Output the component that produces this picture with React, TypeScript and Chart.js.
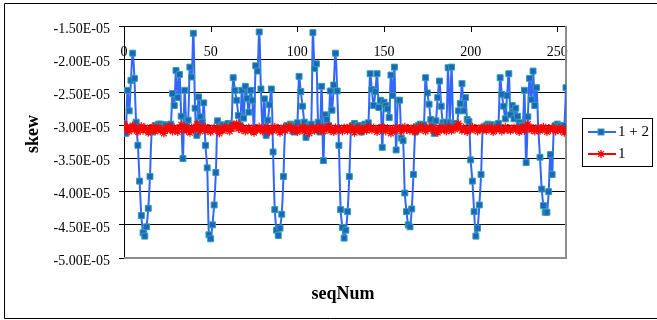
import React, { useEffect, useRef } from 'react';
import { Chart, registerables } from 'chart.js';

Chart.register(...registerables);

// seqNum 0..255 (x index of each sample)
const SEQ_NUM: number[] = Array.from({ length: 256 }, (_, i) => i);

// Series "1 + 2" — skew values in units of 1E-05
const SERIES_1_2: number[] = [
  -2.97, -3.12, -2.47, -2.78, -2.32, -1.91, -2.29, -2.95, -3.30, -3.84, -4.36, -4.62, -4.67, -4.53, -4.25, -3.77,
  -3.10, -3.08, -3.00, -3.02, -2.98, -2.98, -3.01, -3.03, -2.99, -3.05, -3.00, -2.98, -2.52, -2.70, -2.17, -2.58,
  -2.23, -2.86, -3.50, -2.47, -2.98, -2.92, -2.12, -2.27, -1.61, -2.74, -3.15, -2.57, -2.87, -2.95, -2.66, -3.30,
  -3.64, -4.65, -4.71, -4.50, -4.20, -3.71, -2.93, -3.02, -3.00, -2.99, -3.03, -3.00, -2.97, -3.02, -2.99, -2.28,
  -2.47, -2.62, -2.85, -3.00, -2.47, -2.89, -2.41, -2.59, -2.80, -2.47, -2.62, -3.08, -2.10, -2.18, -1.59, -2.45,
  -3.05, -2.60, -3.15, -2.92, -2.69, -2.45, -3.40, -4.27, -4.58, -4.66, -4.55, -4.34, -3.77, -3.05, -3.00, -3.02,
  -2.98, -3.00, -3.10, -3.00, -2.96, -2.26, -2.49, -2.71, -2.95, -3.18, -3.02, -3.00, -2.98, -1.60, -2.14, -2.07,
  -2.95, -3.10, -2.41, -3.53, -2.84, -2.91, -3.00, -2.48, -2.77, -2.39, -1.91, -2.48, -3.30, -4.27, -4.54, -4.70,
  -4.58, -4.30, -3.77, -3.05, -3.00, -2.97, -3.02, -3.00, -3.04, -3.10, -3.00, -2.98, -3.02, -2.96, -2.22, -2.46,
  -2.70, -2.49, -2.22, -2.73, -2.62, -3.33, -2.65, -2.70, -2.75, -2.88, -2.24, -2.55, -2.12, -3.37, -2.62, -2.62,
  -3.19, -3.23, -4.02, -4.30, -4.50, -4.53, -4.26, -3.74, -3.10, -3.02, -3.00, -2.98, -3.01, -2.99, -2.28, -2.51,
  -2.68, -2.91, -3.00, -3.12, -2.93, -2.58, -2.33, -2.71, -2.96, -3.00, -2.95, -2.13, -2.96, -2.12, -2.98, -2.97,
  -3.00, -2.78, -2.67, -2.37, -2.78, -2.58, -2.91, -2.94, -3.52, -3.84, -4.30, -4.67, -4.55, -4.20, -3.74, -3.05,
  -3.02, -3.00, -2.98, -3.01, -3.00, -2.99, -3.03, -3.00, -2.97, -2.28, -2.53, -2.71, -2.90, -2.55, -2.22, -2.84,
  -2.70, -2.90, -2.74, -2.86, -2.96, -3.00, -3.02, -2.47, -3.56, -2.87, -2.29, -2.61, -2.18, -2.70, -2.43, -3.04,
  -3.48, -3.96, -4.21, -4.31, -4.31, -4.00, -3.44, -3.74, -3.05, -3.00, -2.98, -3.02, -3.00, -3.03, -3.00, -2.43,
];

// Series "1" — skew values in units of 1E-05
const SERIES_1: number[] = [
  -2.98, -3.06, -3.02, -3.09, -3.03, -3.00, -3.07, -3.04, -3.10, -3.05, -3.01, -3.08, -3.03, -3.06, -3.11, -3.04,
  -3.07, -3.02, -3.09, -3.05, -3.03, -3.08, -3.06, -3.12, -3.04, -3.07, -3.01, -3.05, -3.09, -3.03, -3.06, -3.10,
  -3.04, -2.99, -3.06, -3.02, -3.08, -3.05, -3.11, -3.03, -3.07, -3.04, -2.98, -3.05, -3.09, -3.03, -3.06, -3.02,
  -3.08, -3.04, -3.10, -3.06, -3.03, -3.07, -3.05, -3.12, -3.04, -3.08, -3.02, -3.06, -3.04, -3.09, -3.05, -2.99,
  -3.03, -2.97, -3.05, -3.01, -3.07, -3.04, -3.09, -3.06, -3.03, -3.08, -3.05, -3.11, -3.04, -3.07, -3.02, -3.06,
  -3.09, -3.04, -3.07, -3.03, -3.10, -3.05, -3.08, -3.02, -3.06, -3.04, -3.11, -3.06, -3.03, -3.08, -3.05, -3.01,
  -3.04, -3.08, -3.03, -3.06, -3.10, -3.05, -3.07, -3.02, -3.09, -3.04, -3.06, -3.12, -3.05, -3.03, -3.08, -3.04,
  -3.07, -3.02, -3.05, -3.09, -3.04, -3.06, -3.01, -3.08, -3.05, -3.10, -3.03, -3.07, -3.04, -3.06, -3.09, -3.03,
  -3.05, -3.08, -3.02, -3.06, -3.04, -3.11, -3.05, -3.07, -3.03, -3.09, -3.06, -3.04, -3.08, -3.02, -3.05, -3.07,
  -3.03, -3.06, -3.10, -3.04, -3.07, -3.02, -3.05, -3.09, -3.04, -3.06, -3.12, -3.05, -3.08, -3.03, -3.06, -3.04,
  -3.09, -3.05, -3.02, -3.07, -3.04, -3.08, -3.06, -3.03, -3.10, -3.05, -3.07, -3.01, -3.06, -3.04, -3.09, -3.05,
  -3.02, -3.06, -3.04, -3.08, -3.05, -3.11, -3.03, -3.07, -3.04, -3.06, -3.09, -3.02, -3.05, -3.08, -3.04, -3.06,
  -3.01, -2.97, -3.04, -3.08, -3.03, -3.06, -3.10, -3.05, -3.07, -3.02, -3.06, -3.04, -3.09, -3.05, -3.03, -3.07,
  -3.04, -3.08, -3.05, -3.02, -3.06, -3.10, -3.04, -3.07, -3.03, -3.05, -3.09, -3.06, -3.02, -3.07, -3.04, -3.08,
  -3.05, -3.03, -3.07, -3.04, -3.10, -3.06, -3.02, -3.08, -3.05, -2.98, -3.03, -3.07, -3.04, -3.09, -3.06, -3.03,
  -3.08, -3.05, -3.02, -3.06, -3.10, -3.04, -3.07, -3.03, -3.05, -3.09, -3.06, -3.04, -3.08, -3.05, -3.11, -3.07,
];

const SERIES_NAMES = ['1 + 2', '1'];
const UNIT = 1e-5;
const Y_MIN = -5.0e-5;
const Y_MAX = -1.5e-5;
const Y_STEP = 0.5e-5;
const X_MIN = 0;
const X_MAX = 255;
const X_STEP = 50;
const X_TITLE = 'seqNum';
const Y_TITLE = 'skew';

const SERIF = "'Times New Roman', 'Liberation Serif', serif";
const BLUE_LINE = '#3366ff';
const BLUE_FILL = '#1f62c4';
const BLUE_EDGE = '#2aa3a3';
const RED = '#ff0000';

function sci(v: number): string {
  const [m, e] = Number(v).toExponential(2).split('e');
  const ex = parseInt(e, 10);
  const sign = ex < 0 ? '-' : '+';
  return `${m}E${sign}${String(Math.abs(ex)).padStart(2, '0')}`;
}

const decorPlugin = {
  id: 'decor',
  beforeDatasetsDraw(chart: any) {
    const { ctx, chartArea: a } = chart;
    ctx.save();
    // plot area right/bottom frame (grey)
    ctx.strokeStyle = '#8c8c8c';
    ctx.lineWidth = 2;
    ctx.beginPath();
    ctx.moveTo(a.left, a.bottom);
    ctx.lineTo(a.right, a.bottom);
    ctx.lineTo(a.right, a.top);
    ctx.stroke();
    // inward tick marks on the top category axis
    const xs = chart.scales.x;
    ctx.strokeStyle = '#000';
    ctx.lineWidth = 1;
    ctx.beginPath();
    xs.ticks.forEach((t: any) => {
      const px = Math.round(xs.getPixelForValue(t.value)) + 0.5;
      ctx.moveTo(px, a.top);
      ctx.lineTo(px, a.top + 6);
    });
    ctx.stroke();
    ctx.restore();
  },
  afterDraw(chart: any) {
    const { ctx, chartArea: a } = chart;
    ctx.save();
    // outer chart border
    ctx.strokeStyle = '#000';
    ctx.lineWidth = 1;
    ctx.beginPath();
    ctx.moveTo(657, 3.5);
    ctx.lineTo(4.5, 3.5);
    ctx.lineTo(4.5, 318.5);
    ctx.lineTo(657, 318.5);
    ctx.stroke();

    // axis titles
    ctx.fillStyle = '#000';
    ctx.font = `bold 18px ${SERIF}`;
    ctx.textAlign = 'center';
    ctx.textBaseline = 'alphabetic';
    ctx.fillText(X_TITLE, (a.left + a.right) / 2 - 2, 298.5);
    ctx.save();
    ctx.translate(37.5, 134);
    ctx.rotate(-Math.PI / 2);
    ctx.fillText(Y_TITLE, 0, 0);
    ctx.restore();

    // legend box
    const lx = 582.5, ly = 118.5, lw = 70, lh = 48;
    ctx.strokeStyle = '#000';
    ctx.lineWidth = 1;
    ctx.strokeRect(lx, ly, lw, lh);
    const items = chart.data.datasets;
    const rows = [132, 154];
    items.forEach((ds: any, i: number) => {
      const y = rows[i];
      ctx.strokeStyle = ds.borderColor;
      ctx.lineWidth = 2;
      ctx.beginPath();
      ctx.moveTo(588, y);
      ctx.lineTo(616, y);
      ctx.stroke();
      const cx = 601;
      if (ds.pointStyle === 'rect') {
        ctx.fillStyle = ds.pointBackgroundColor;
        ctx.strokeStyle = ds.pointBorderColor;
        ctx.lineWidth = 1;
        ctx.fillRect(cx - 3, y - 3, 6, 6);
        ctx.strokeRect(cx - 3, y - 3, 6, 6);
      } else {
        ctx.strokeStyle = ds.pointBorderColor;
        ctx.lineWidth = 1.3;
        const r = 4;
        ctx.beginPath();
        ctx.moveTo(cx - r, y); ctx.lineTo(cx + r, y);
        ctx.moveTo(cx, y - r); ctx.lineTo(cx, y + r);
        const d = r * Math.SQRT1_2;
        ctx.moveTo(cx - d, y - d); ctx.lineTo(cx + d, y + d);
        ctx.moveTo(cx - d, y + d); ctx.lineTo(cx + d, y - d);
        ctx.stroke();
      }
      ctx.fillStyle = '#000';
      ctx.font = `15px ${SERIF}`;
      ctx.textAlign = 'left';
      ctx.textBaseline = 'middle';
      ctx.fillText(ds.label, 618, y + 0.5);
    });
    ctx.restore();
  },
};

export default function App() {
  const canvasRef = useRef<HTMLCanvasElement | null>(null);

  useEffect(() => {
    const canvas = canvasRef.current;
    if (!canvas) return;
    const tickFont = { family: SERIF, size: 14 };
    const chart = new Chart(canvas, {
      type: 'line',
      data: {
        datasets: [
          {
            label: SERIES_NAMES[0],
            data: SEQ_NUM.map((x, i) => ({ x, y: SERIES_1_2[i] * UNIT })),
            borderColor: BLUE_LINE,
            borderWidth: 2,
            tension: 0.35,
            pointStyle: 'rect',
            pointRadius: 4.2,
            pointBackgroundColor: BLUE_FILL,
            pointBorderColor: BLUE_EDGE,
            pointBorderWidth: 1,
            order: 1,
          },
          {
            label: SERIES_NAMES[1],
            data: SEQ_NUM.map((x, i) => ({ x, y: SERIES_1[i] * UNIT })),
            borderColor: RED,
            borderWidth: 1.5,
            tension: 0.3,
            pointStyle: 'star',
            pointRadius: 4,
            pointBackgroundColor: RED,
            pointBorderColor: RED,
            pointBorderWidth: 1.2,
            order: 0,
          },
        ],
      },
      options: {
        responsive: false,
        animation: false,
        events: [],
        layout: { padding: { top: 26, left: 0, right: 91, bottom: 62 } },
        plugins: { legend: { display: false }, tooltip: { enabled: false } },
        scales: {
          x: {
            type: 'linear',
            position: 'top',
            min: X_MIN,
            max: X_MAX,
            ticks: {
              stepSize: X_STEP,
              includeBounds: false,
              mirror: true,
              padding: 18,
              maxRotation: 0,
              autoSkip: false,
              color: '#000',
              font: tickFont,
            },
            grid: { drawOnChartArea: false, drawTicks: false },
            border: { display: true, color: '#000', width: 1 },
            afterFit: (s: any) => { s.height = 0; },
          },
          y: {
            type: 'linear',
            min: Y_MIN,
            max: Y_MAX,
            ticks: {
              stepSize: Y_STEP,
              callback: (v: any) => sci(Number(v)),
              padding: 9,
              labelOffset: 3,
              color: '#000',
              font: tickFont,
            },
            grid: {
              color: (c: any) => (c.tick && Math.abs(c.tick.value - Y_MIN) < 1e-9 ? 'rgba(0,0,0,0)' : '#000'),
              lineWidth: 1,
              tickLength: 5,
              tickColor: '#000',
            },
            border: { display: true, color: '#000', width: 1 },
            afterFit: (s: any) => { s.width = 124; },
          },
        },
      },
      plugins: [decorPlugin],
    } as any);
    return () => chart.destroy();
  }, []);

  return (
    <div style={{ position: 'fixed', left: 0, top: 0, width: 657, height: 320, background: '#fff' }}>
      <canvas ref={canvasRef} width={657} height={320} style={{ display: 'block', width: 657, height: 320 }} />
    </div>
  );
}
